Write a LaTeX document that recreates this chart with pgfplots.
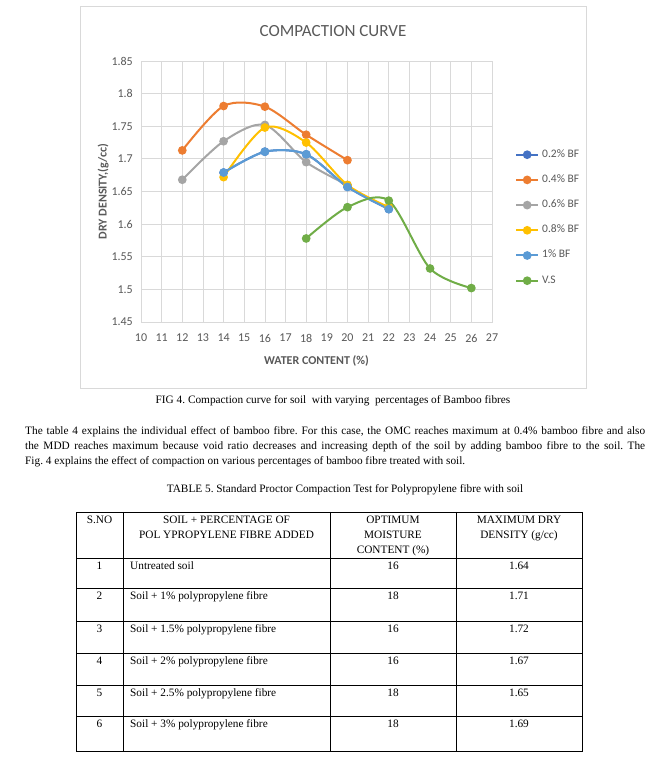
\documentclass[border=0pt]{standalone}
\usepackage{fontspec}
\setmainfont{Liberation Serif}
\newfontfamily\carlito{Carlito}
\usepackage{pgfplots}
\pgfplotsset{compat=1.18}
\definecolor{c02}{HTML}{4472C4}
\definecolor{c04}{HTML}{ED7D31}
\definecolor{c06}{HTML}{A5A5A5}
\definecolor{c08}{HTML}{FFC000}
\definecolor{c1}{HTML}{5B9BD5}
\definecolor{cvs}{HTML}{70AD47}
\definecolor{txtgray}{HTML}{595959}
\definecolor{gridgray}{HTML}{D9D9D9}
\newcommand\tf{\fontsize{11.3}{15}\selectfont}
\pgfplotsset{ser/.style={color=#1, line width=2pt, smooth, mark=*, mark size=3.3pt, mark options={solid, fill=#1, draw=#1}}}
\begin{document}
\frenchspacing
\begin{tikzpicture}
\path[use as bounding box, fill=white] (0pt,0pt) rectangle (657pt,766pt);
% chart area border
\draw[gridgray, line width=0.75pt] (80pt,378pt) rectangle (586pt,760pt);
\node[font=\carlito\fontsize{17}{20}\selectfont, text=txtgray] at (333pt,735pt) {COMPACTION CURVE};
\begin{axis}[
  at={(141pt,444pt)}, anchor=south west,
  scale only axis, width=351pt, height=261pt,
  xmin=10, xmax=27, ymin=1.45, ymax=1.85,
  xtick={10,11,...,27},
  ytick={1.45,1.5,1.55,1.6,1.65,1.7,1.75,1.8,1.85},
  yticklabels={1.45,1.5,1.55,1.6,1.65,1.7,1.75,1.8,1.85},
  grid=major, major grid style={gridgray, line width=0.75pt},
  axis line style={gridgray, line width=0.75pt},
  major tick length=0pt,
  /pgf/number format/assume math mode=true,
  tick label style={font=\carlito\fontsize{12}{14}\selectfont, text=txtgray},
  yticklabel style={anchor=east, inner sep=0pt, xshift=-8pt},
  xticklabel style={anchor=north, inner sep=0pt, yshift=-12pt},
  xlabel={WATER CONTENT (\%)}, ylabel={DRY DENSITY,(g/cc)},
  xlabel style={at={(axis description cs:0.5,-0.148)}, anchor=center, font=\carlito\bfseries\fontsize{12}{14}\selectfont, text=txtgray},
  ylabel style={at={(axis description cs:-0.108,0.5)}, anchor=center, font=\carlito\bfseries\fontsize{12}{14}\selectfont, text=txtgray},
  legend cell align=left,
  legend image code/.code={\draw[mark repeat=2,mark phase=2] plot coordinates {(0pt,0pt) (11pt,0pt) (22pt,0pt)};},
  legend style={at={(1.0655,0.659)}, anchor=north west, draw=none, fill=none,
    font=\carlito\fontsize{11.5}{13}\selectfont, text=txtgray, inner sep=0pt,
    row sep=16.2pt, nodes={inner sep=0pt, text height=7pt, text depth=2pt},
    /tikz/every odd column/.append style={column sep=3pt}},
]
\addplot[ser=c02] coordinates {(14,1.679) (16,1.711) (18,1.707) (20,1.657) (22,1.623)};
\addplot[ser=c04] coordinates {(12,1.713) (14,1.781) (16,1.780) (18,1.737) (20,1.698)};
\addplot[ser=c06] coordinates {(12,1.668) (14,1.727) (16,1.752) (18,1.695) (20,1.660)};
\addplot[ser=c08] coordinates {(14,1.672) (16,1.748) (18,1.725) (20,1.660) (22,1.626)};
\addplot[ser=c1] coordinates {(14,1.679) (16,1.711) (18,1.707) (20,1.657) (22,1.623)};
\addplot[ser=cvs] coordinates {(18,1.578) (20,1.626) (22,1.636) (24,1.532) (26,1.502)};
\legend{0.2\% BF, 0.4\% BF, 0.6\% BF, 0.8\% BF, 1\% BF, V.S}
\end{axis}
% caption
\node[font=\tf, anchor=base, inner sep=0pt] at (333pt,362pt) {FIG 4. Compaction curve for soil\ \ with varying\ \ percentages of Bamboo fibres};
% paragraph
\node[font=\tf, anchor=north west, inner sep=0pt, text width=620pt, align=justify] at (25pt,340pt)
{The table 4 explains the individual effect of bamboo fibre. For this case, the OMC reaches maximum at 0.4\% bamboo fibre and also\linebreak the MDD reaches maximum because void ratio decreases and increasing depth of the soil by adding bamboo fibre to the soil. The\linebreak Fig. 4 explains the effect of compaction on various percentages of bamboo fibre treated with soil.};
% table title
\node[font=\tf, anchor=base, inner sep=0pt] at (345pt,273pt) {TABLE 5. Standard Proctor Compaction Test for Polypropylene fibre with soil};
% table grid
\begin{scope}[line width=0.6pt]
\draw (76pt,254pt) rectangle (582pt,15pt);
\foreach \xx in {123,330,456} \draw (\xx pt,254pt) -- (\xx pt,15pt);
\foreach \yy in {208,178,145,113,81,50} \draw (76pt,\yy pt) -- (582pt,\yy pt);
\end{scope}
\begin{scope}[every node/.style={font=\tf, anchor=base, inner sep=0pt}]
\node at (99.5pt,242pt) {S.NO};
\node at (226.5pt,242pt) {SOIL + PERCENTAGE OF};
\node at (226.5pt,227pt) {POL YPROPYLENE FIBRE ADDED};
\node at (393pt,242pt) {OPTIMUM};
\node at (393pt,227pt) {MOISTURE};
\node at (393pt,212pt) {CONTENT (\%)};
\node at (519pt,242pt) {MAXIMUM DRY};
\node at (519pt,227pt) {DENSITY (g/cc)};
\foreach \n/\t/\o/\m/\yy in {1/Untreated soil/16/1.64/196, 2/Soil + 1\% polypropylene fibre/18/1.71/166, 3/Soil + 1.5\% polypropylene fibre/16/1.72/133, 4/Soil + 2\% polypropylene fibre/16/1.67/101, 5/Soil + 2.5\% polypropylene fibre/18/1.65/69, 6/Soil + 3\% polypropylene fibre/18/1.69/38}{
  \node at (99.5pt,\yy pt) {\n};
  \node[anchor=base west] at (130pt,\yy pt) {\t};
  \node at (393pt,\yy pt) {\o};
  \node at (519pt,\yy pt) {\m};
}
\end{scope}
\end{tikzpicture}
\end{document}
